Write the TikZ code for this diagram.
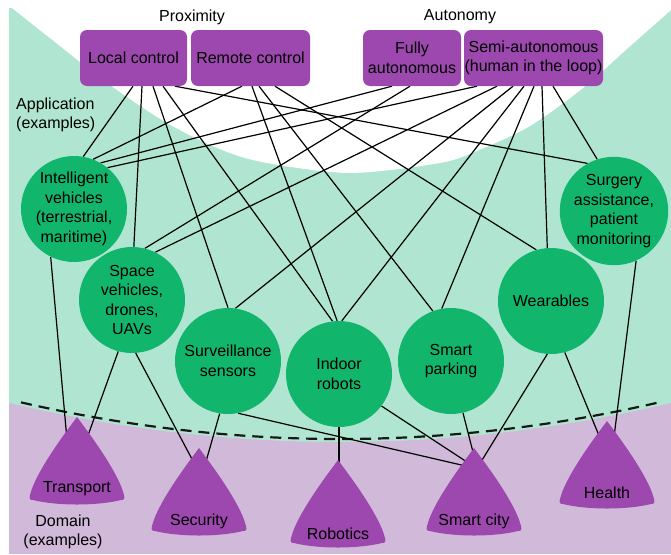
\documentclass[tikz,border=0pt]{standalone}
\usepackage{fontspec}
\setmainfont{Liberation Sans}
\definecolor{lgreen}{RGB}{176,230,209}
\definecolor{cgreen}{RGB}{17,182,108}
\definecolor{purp}{RGB}{156,72,174}
\definecolor{lpurp}{RGB}{209,185,217}
\pgfdeclarelayer{bg}
\pgfdeclarelayer{edges}
\pgfsetlayers{bg,edges,main}
\newcommand\myfs{\fontsize{16}{19.5}\selectfont}
\tikzset{
  domshape/.pic={
    \fill[purp] (0,0) .. controls (-5,7) and (-41,53) .. (-47,78)
      .. controls (-48,82) and (-47,83) .. (-44,83)
      .. controls (-20,89) and (20,89) .. (44,83)
      .. controls (47,83) and (48,82) .. (47,78)
      .. controls (41,53) and (5,7) .. cycle;
  },
  box/.style={fill=purp, rounded corners=7pt, minimum height=56pt, inner sep=0pt, align=center, font=\myfs},
  app/.style={circle, fill=cgreen, minimum size=106pt, inner sep=0pt, align=center, font=\myfs},
  lbl/.style={font=\myfs, inner sep=0pt},
  conn/.style={draw=black, line width=1.2pt},
  bound/.style={draw=black!90, line width=2.2pt, dash pattern=on 11pt off 7pt}
}
\begin{document}
\begin{tikzpicture}[x=1pt,y=-1pt]
\useasboundingbox (0,0) rectangle (671,554);
\begin{pgfonlayer}{bg}
  \fill[white] (0,0) rectangle (671,554);
  \fill[lgreen] (9,8) rectangle (671,554);
  \fill[white] (671,8) -- (12,8) -- plot[smooth] coordinates {(12,8) (60,46) (110,85) (167,123) (222,150) (267,163) (350,173) (440,163) (479,150) (530,126) (583,88) (628,48) (671,10)} -- cycle;
  \fill[lpurp] (9,554) -- plot[domain=9:671, samples=80] (\x,{442-3.56*((\x-340)/100)^2}) -- (671,554) -- cycle;
  \draw[bound] plot[domain=21:663, samples=80] (\x,{439-3.6*((\x-340)/100)^2});
\end{pgfonlayer}

% labels
\node[lbl] (prox) at (192,17) {Proximity};
\node[lbl] (auto) at (460,17) {Autonomy};
\node[lbl, anchor=west, align=left] (appl) at (16,115) {Application\\(examples)};
\node[lbl, align=center] (dom) at (63,532) {Domain\\(examples)};

% top boxes
\node[box, minimum width=107pt] (L) at (133.5,58) {Local control};
\node[box, minimum width=119pt] (R) at (250.5,58) {Remote control};
\node[box, minimum width=98pt] (F) at (412,58) {Fully\\autonomous};
\node[box, minimum width=139pt] (S) at (533.5,58) {Semi-autonomous\\(human in the loop)};

% applications
\node[app] (iv) at (74,209) {Intelligent\\vehicles\\(terrestrial,\\maritime)};
\node[app] (sv) at (132,300) {Space\\vehicles,\\drones,\\UAVs};
\node[app] (ss) at (228,361) {Surveillance\\sensors};
\node[app] (ir) at (339,374) {Indoor\\robots};
\node[app] (sp) at (451,361) {Smart\\parking};
\node[app] (we) at (551,301) {Wearables};
\node[app, minimum size=108pt] (sa) at (614,211) {Surgery\\assistance,\\patient\\monitoring};

% domains
\pic at (77,417) {domshape};
\pic at (199,448) {domshape};
\pic at (338,460) {domshape};
\pic at (474,448) {domshape};
\pic at (607,421) {domshape};
\node[lbl] (tr) at (77,489) {Transport};
\node[lbl] (se) at (199,521) {Security};
\node[lbl] (ro) at (338,534) {Robotics};
\node[lbl] (sc) at (474,521) {Smart city};
\node[lbl] (he) at (607,493) {Health};

\coordinate (trA) at (67,440);
\coordinate (trB) at (86,441);
\coordinate (seA) at (193,461);
\coordinate (seB) at (205,465);
\coordinate (scA) at (470,467);
\coordinate (roA) at (339,470);
\coordinate (scB) at (470,464);
\coordinate (scC) at (474,456);
\coordinate (scD) at (479,465);
\coordinate (heA) at (600,438);
\coordinate (heB) at (614,437);

\begin{pgfonlayer}{edges}
  \draw[conn] ([xshift=-0.5pt]L.south) -- (iv.80);
  \draw[conn] ([xshift=8.5pt]L.south) -- (sv.88);
  \draw[conn] ([xshift=19.5pt]L.south) -- (ss.90);
  \draw[conn] ([xshift=29.5pt]L.south) -- (ir.97);
  \draw[conn] ([xshift=41.5pt]L.south) -- (sa.119);
  \draw[conn] ([xshift=-8.5pt]R.south) -- (iv.69);
  \draw[conn] ([xshift=1.5pt]R.south) -- (ir.92);
  \draw[conn] ([xshift=8.5pt]R.south) -- (sp.110);
  \draw[conn] ([xshift=24.5pt]R.south) -- (we.106);
  \draw[conn] ([xshift=-20pt]F.south) -- (iv.60);
  \draw[conn] ([xshift=-2pt]F.south) -- (sv.76);
  \draw[conn] ([xshift=-56.5pt]S.south) -- (iv.51);
  \draw[conn] ([xshift=-36.5pt]S.south) -- (sv.64);
  \draw[conn] ([xshift=-20.5pt]S.south) -- (ss.82);
  \draw[conn] ([xshift=-9.5pt]S.south) -- (ir.87);
  \draw[conn] ([xshift=0.5pt]S.south) -- (sp.100);
  \draw[conn] ([xshift=8.5pt]S.south) -- (we.94);
  \draw[conn] ([xshift=19.5pt]S.south) -- (sa.108);
  \draw[conn] (iv.244) -- (trA);
  \draw[conn] (sv.255) -- (trB);
  \draw[conn] (sv.274) -- (seA);
  \draw[conn] (ss.261) -- (seB);
  \draw[conn] (ss.281) -- (scA);
  \draw[conn] (ir.270) -- (roA);
  \draw[conn] (ir.323) -- (scB);
  \draw[conn] (sp.283) -- (scC);
  \draw[conn] (we.266) -- (scD);
  \draw[conn] (we.285) -- (heA);
  \draw[conn] (sa.294) -- (heB);
\end{pgfonlayer}
\end{tikzpicture}
\end{document}
